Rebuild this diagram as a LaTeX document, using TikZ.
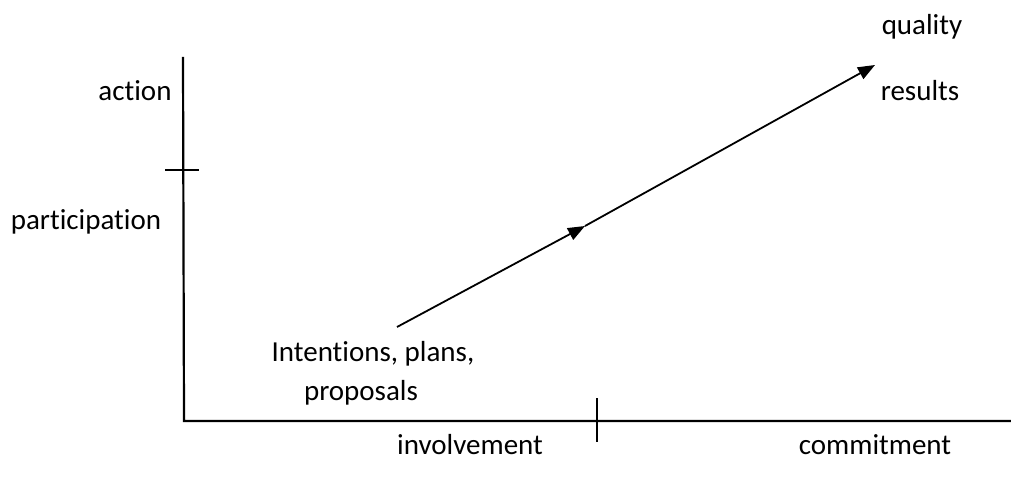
\documentclass[tikz,border=0pt]{standalone}
\usepackage{fontspec}
\setmainfont[Ligatures={NoCommon,NoContextual},RawFeature={-liga;-clig;-dlig}]{Carlito}
\usetikzlibrary{arrows.meta}
\begin{document}
\begin{tikzpicture}[x=1pt,y=-1pt,
  lbl/.style={font=\fontsize{29}{35}\selectfont, inner sep=0pt, anchor=base},
  axis/.style={line width=2.2pt, line cap=rect},
  tick/.style={line width=1.8pt},
  arr/.style={line width=1.8pt, -{Triangle[length=17pt,width=13pt]}}]
\useasboundingbox (0,0) rectangle (1011,484);
\coordinate (top) at (183,58);
\coordinate (corner) at (184,421);
\coordinate (right) at (1011,421);
\draw[axis] (top) -- (corner) -- (right);
\coordinate (vt1) at (165,170); \coordinate (vt2) at (199,170);
\draw[tick] (vt1) -- (vt2);
\coordinate (ht1) at (597,398); \coordinate (ht2) at (597,442);
\draw[tick] (ht1) -- (ht2);
\coordinate (s) at (397,327);
\coordinate (m) at (585,226);
\coordinate (e) at (875,65);
\draw[arr] (s) -- (m);
\draw[arr] (m) -- (e);
\node[lbl] (action) at (135,101) {action};
\node[lbl] (part) at (86,229) {participation};
\node[lbl] (quality) at (922,35) {quality};
\node[lbl] (results) at (920,101) {results};
\node[lbl] (int) at (373,361) {Intentions, plans,};
\node[lbl] (prop) at (361,400) {proposals};
\node[lbl] (inv) at (470,454) {involvement};
\node[lbl] (com) at (875,454) {commitment};
\end{tikzpicture}
\end{document}
